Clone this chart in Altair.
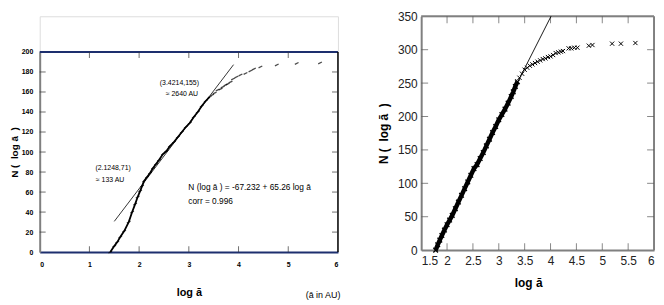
import altair as alt
import pandas as pd

# ---------------- left panel data ----------------
left_x = [1.42, 1.50, 1.56, 1.62, 1.70, 1.79, 1.86, 1.92, 1.97, 2.02, 2.06, 2.10,
          2.16, 2.22, 2.28, 2.34, 2.40, 2.48, 2.55, 2.62, 2.70, 2.78, 2.86, 2.94,
          3.02, 3.10, 3.18, 3.26, 3.34, 3.42]
left_y = [0, 6, 10, 15, 21, 30, 40, 48, 55, 61, 66, 71,
          75, 79, 84, 88, 92, 98, 101, 106, 110, 115, 120, 125,
          129, 135, 140, 146, 151, 155]
left_tail_x = [3.47, 3.52, 3.58, 3.64, 3.68, 3.74, 3.78, 3.84, 3.89, 3.96, 4.04,
               4.14, 4.24, 4.31, 4.44, 4.77, 5.17, 5.64]
left_tail_y = [157, 159, 162, 163, 165, 167, 168, 170, 173, 175, 177,
               178.5, 181, 183, 185, 187, 188.5, 189]
left_fit_x = [1.5, 3.9]
left_fit_y = [30.7, 187.3]
left_xticks = [0, 1, 2, 3, 4, 5, 6]
left_yticks = [0, 20, 40, 60, 80, 100, 120, 140, 160, 180, 200]
note_c_text = ["(3.4214,155)", "\u2248 2640 AU"]
note_c_x = [2.81, 2.86]
note_c_y = [169.3, 158.4]
note_l_text = ["(2.1248,71)", "\u2248 133 AU"]
note_l_x = [1.12, 1.13]
note_l_y = [84.2, 72.3]
eq_text = ["N (log \u0101 ) = -67.232 + 65.26 log \u0101", "corr = 0.996"]
eq_x = [2.99, 2.99]
eq_y = [65.3, 51.5]

# ---------------- right panel data ----------------
right_x = [1.78, 1.82, 1.86, 1.90, 1.95, 2.00, 2.05, 2.10, 2.16, 2.22, 2.28, 2.34,
           2.40, 2.46, 2.52, 2.58, 2.64, 2.70, 2.76, 2.82, 2.88, 2.94, 3.00, 3.06,
           3.12, 3.18, 3.24, 3.28, 3.32, 3.36]
right_y = [0, 8, 15, 22, 30, 38, 45, 52, 62, 72, 82, 92,
           102, 112, 122, 128, 137, 146, 156, 166, 176, 185, 195, 203,
           211, 220, 230, 237, 245, 252]
right_tail_x = [3.40, 3.45, 3.50, 3.55, 3.60, 3.65, 3.70, 3.75, 3.80, 3.85, 3.90,
                3.95, 4.00, 4.05, 4.10, 4.15, 4.20, 4.24, 4.35, 4.40, 4.46, 4.52,
                4.74, 4.81, 5.19, 5.36, 5.64]
right_tail_y = [258, 264, 270, 273, 276, 278, 280, 282, 284, 286, 287,
                289, 290, 292, 295, 296, 297, 298, 302, 302, 303, 303,
                306, 307, 309, 309, 310]
right_fit_x = [3.10, 4.02]
right_fit_y = [211, 351.6]
right_xticks = [1.5, 2, 2.5, 3, 3.5, 4, 4.5, 5, 5.5, 6]
right_yticks = [0, 50, 100, 150, 200, 250, 300, 350]

NAVY = "#1d2f6e"
GRAY = "#808080"
FONT = "Liberation Sans"
TITLE_Y = "N\u00a0(\u00a0\u00a0log\u00a0\u0101\u00a0\u00a0)"
XCROSS = "M-1,-1L1,1M-1,1L1,-1"
DASH = "M-1,0.5L1,-0.5"

# ---------------- left panel ----------------
LH = 238
lxs = alt.Scale(domain=[0, 6], nice=False, zero=False)
lys = alt.Scale(domain=[0, 200], nice=False, zero=False, range=[LH, 36])
lxa = alt.Axis(values=left_xticks, ticks=False, tickSize=0, grid=False,
               domainColor=NAVY, domainWidth=2, labelFont=FONT,
               labelFontWeight="bold", labelFontSize=7, labelColor="black",
               labelPadding=9, title="log \u0101", titleFont=FONT,
               titleFontSize=11, titleFontWeight="bold", titleColor="black",
               titlePadding=19)
lya = alt.Axis(values=left_yticks, ticks=False, tickSize=0, grid=False,
               domainColor=GRAY, domainWidth=2, labelFont=FONT,
               labelFontWeight="bold", labelFontSize=7, labelColor="black",
               labelPadding=7, title=TITLE_Y, titleFont=FONT,
               titleFontSize=10, titleFontWeight="bold", titleColor="black",
               titlePadding=2)


def LX(f="x"):
    return alt.X(f"{f}:Q", scale=lxs, axis=lxa)


def LY(f="y"):
    return alt.Y(f"{f}:Q", scale=lys, axis=lya)


ld = pd.DataFrame({"x": left_x, "y": left_y})
lt = pd.DataFrame({"x": left_tail_x, "y": left_tail_y})
lf = pd.DataFrame({"x": left_fit_x, "y": left_fit_y})
lnc = pd.DataFrame({"t": note_c_text, "x": note_c_x, "y": note_c_y})
lnl = pd.DataFrame({"t": note_l_text, "x": note_l_x, "y": note_l_y})
leq = pd.DataFrame({"t": eq_text, "x": eq_x, "y": eq_y})
lbt = pd.DataFrame({"x": left_xticks[1:-1], "y0": [0] * 5, "y1": [200] * 5})
lyt = pd.DataFrame({"y": left_yticks[1:-1], "x0": [0] * 9, "x1": [6] * 9})
one = pd.DataFrame({"v": [0]})

TK = dict(size=6, thickness=1, color="#333")
left_layers = [
    alt.Chart(one).mark_rule(color=NAVY, strokeWidth=2).encode(
        x=alt.X(datum=0, scale=lxs, axis=lxa), x2=alt.X2(datum=6),
        y=alt.Y(datum=200, scale=lys, axis=lya)),
    alt.Chart(one).mark_rule(color="black", strokeWidth=1.5).encode(
        x=alt.X(datum=6, scale=lxs, axis=lxa),
        y=alt.Y(datum=0, scale=lys, axis=lya), y2=alt.Y2(datum=200)),
    alt.Chart(lbt).mark_tick(orient="vertical", yOffset=-3, **TK).encode(x=LX(), y=LY("y0")),
    alt.Chart(lbt).mark_tick(orient="vertical", yOffset=3, **TK).encode(x=LX(), y=LY("y1")),
    alt.Chart(lyt).mark_tick(orient="horizontal", xOffset=3, **TK).encode(x=LX("x0"), y=LY()),
    alt.Chart(lyt).mark_tick(orient="horizontal", xOffset=-3, **TK).encode(x=LX("x1"), y=LY()),
    alt.Chart(lf).mark_line(color="black", strokeWidth=0.8).encode(x=LX(), y=LY()),
    alt.Chart(ld).mark_line(color="black", strokeWidth=1.8).encode(x=LX(), y=LY()),
    alt.Chart(ld).mark_point(shape=DASH, size=14, color="black", strokeWidth=1.2).encode(x=LX(), y=LY()),
    alt.Chart(lt).mark_point(shape=DASH, size=14, color="black", strokeWidth=1.3).encode(x=LX(), y=LY()),
    alt.Chart(lnc).mark_text(font=FONT, fontSize=7, color="black", align="center", baseline="middle").encode(
        x=LX(), y=LY(), text="t:N"),
    alt.Chart(lnl).mark_text(font=FONT, fontSize=7, color="black", align="left", baseline="middle").encode(
        x=LX(), y=LY(), text="t:N"),
    alt.Chart(leq).mark_text(font=FONT, fontSize=8.4, color="black", align="left", baseline="middle").encode(
        x=LX(), y=LY(), text="t:N"),
    alt.Chart(pd.DataFrame({"t": ["(\u0101 in AU)"], "x": [5.70], "y": [-43]})).mark_text(
        font=FONT, fontSize=9, color="black", baseline="middle").encode(x=LX(), y=LY(), text="t:N"),
]
left = alt.layer(*left_layers).properties(width=301, height=LH)

# ---------------- right panel ----------------
rxs = alt.Scale(domain=[1.5, 6], nice=False, zero=False)
rys = alt.Scale(domain=[0, 350], nice=False, zero=False)
rxa = alt.Axis(values=right_xticks, format="~g", ticks=False, tickSize=0, grid=False,
               domainColor=GRAY, domainWidth=2, labelFont=FONT,
               labelFontSize=12, labelColor="#222", labelPadding=6,
               title="log \u0101", titleFont=FONT, titleFontSize=12,
               titleFontWeight="bold", titleColor="black", titlePadding=11,
               titleX=108)
rya = alt.Axis(values=right_yticks, ticks=False, tickSize=0, grid=False,
               domainColor=GRAY, domainWidth=2, labelFont=FONT,
               labelFontSize=12, labelColor="#222", labelPadding=4,
               title=TITLE_Y, titleFont=FONT, titleFontSize=12,
               titleFontWeight="bold", titleColor="black", titlePadding=7)


def RX(f="x"):
    return alt.X(f"{f}:Q", scale=rxs, axis=rxa)


def RY(f="y"):
    return alt.Y(f"{f}:Q", scale=rys, axis=rya)


rd = pd.DataFrame({"x": right_x, "y": right_y})
rt = pd.DataFrame({"x": right_tail_x, "y": right_tail_y})
rf = pd.DataFrame({"x": right_fit_x, "y": right_fit_y})
rbt = pd.DataFrame({"x": right_xticks[1:-1], "y0": [0] * 8, "y1": [350] * 8})
ryt = pd.DataFrame({"y": right_yticks[1:-1], "x0": [1.5] * 6, "x1": [6] * 6})

RTK = dict(size=7, thickness=1, color="#555")
right_layers = [
    alt.Chart(one).mark_rule(color=GRAY, strokeWidth=2).encode(y=alt.Y(datum=350, scale=rys, axis=rya)),
    alt.Chart(one).mark_rule(color=GRAY, strokeWidth=2).encode(x=alt.X(datum=6, scale=rxs, axis=rxa)),
    alt.Chart(rbt).mark_tick(orient="vertical", yOffset=-3.5, **RTK).encode(x=RX(), y=RY("y0")),
    alt.Chart(rbt).mark_tick(orient="vertical", yOffset=3.5, **RTK).encode(x=RX(), y=RY("y1")),
    alt.Chart(ryt).mark_tick(orient="horizontal", xOffset=3.5, **RTK).encode(x=RX("x0"), y=RY()),
    alt.Chart(ryt).mark_tick(orient="horizontal", xOffset=-3.5, **RTK).encode(x=RX("x1"), y=RY()),
    alt.Chart(rf).mark_line(color="black", strokeWidth=0.9, clip=True).encode(x=RX(), y=RY()),
    alt.Chart(rd).mark_line(color="black", strokeWidth=4.5).encode(x=RX(), y=RY()),
    alt.Chart(rd).mark_point(shape=XCROSS, size=22, color="black", strokeWidth=1.3, opacity=1).encode(x=RX(), y=RY()),
    alt.Chart(rt).mark_point(shape=XCROSS, size=18, color="black", strokeWidth=1, opacity=1).encode(x=RX(), y=RY()),
]
right = alt.layer(*right_layers).properties(width=235, height=236)

chart = alt.hconcat(left, right, spacing=35).properties(
    padding={"left": 0, "top": 0, "right": 0, "bottom": 0}
).configure_view(stroke=None).configure(background="white")

chart.save("out.html", embed_options={"renderer": "svg", "actions": False})
